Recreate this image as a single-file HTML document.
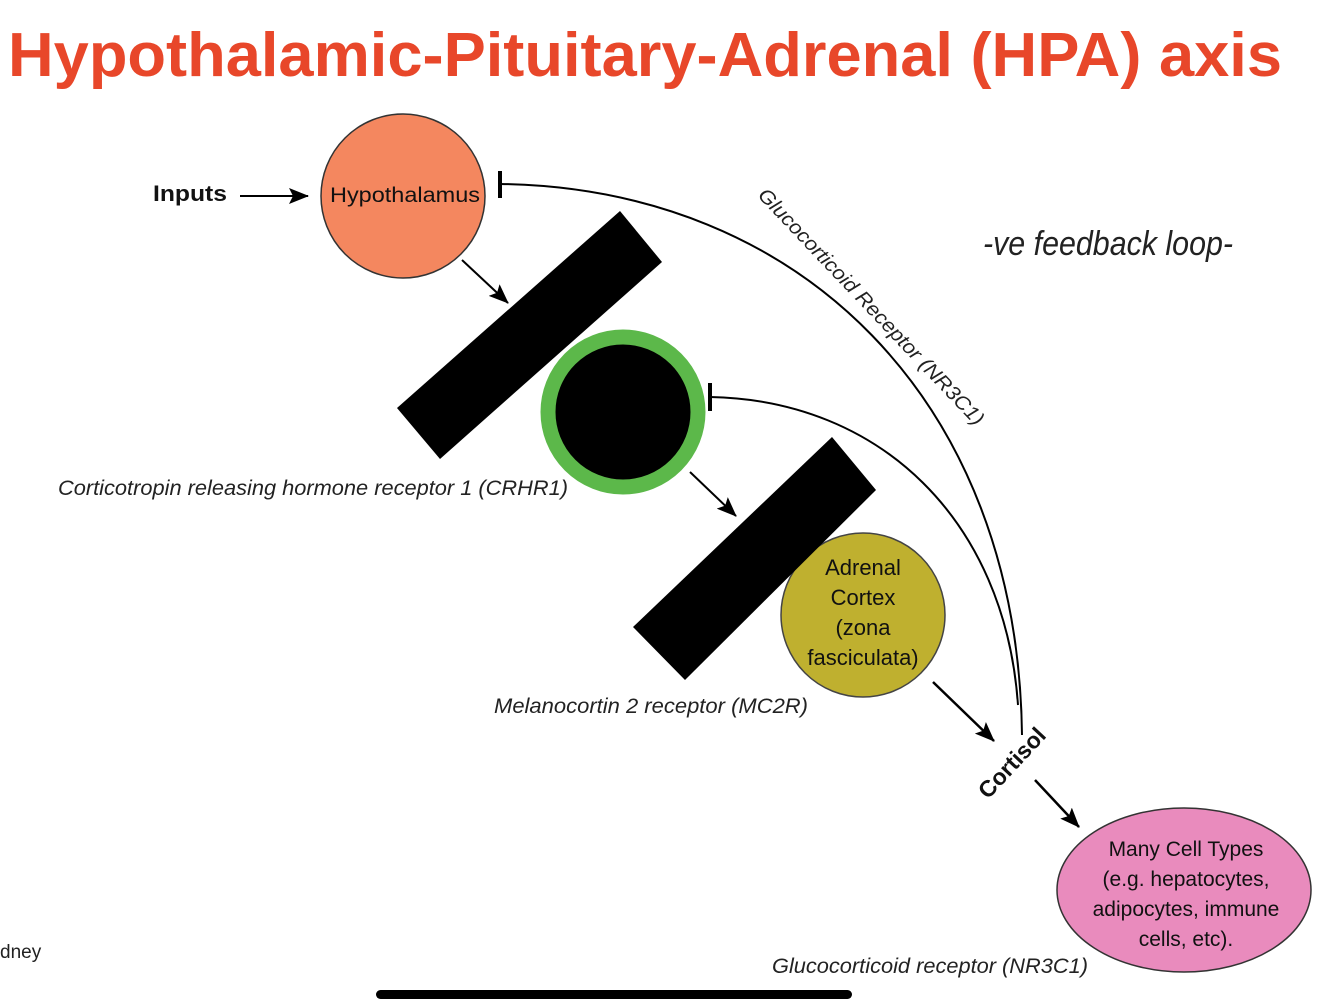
<!DOCTYPE html>
<html><head><meta charset="utf-8"><style>
html,body{margin:0;padding:0;background:#fff;}
svg{display:block;}
</style></head><body>
<svg width="1334" height="1008" viewBox="0 0 1334 1008" xmlns="http://www.w3.org/2000/svg">
<defs>
<marker id="ah2" markerWidth="20" markerHeight="16" refX="19" refY="8" orient="auto" markerUnits="userSpaceOnUse">
<path d="M0,0 L20,8 L0,16 L4,8 Z" fill="#000"/>
</marker>
</defs>
<text x="8" y="76" font-family="Liberation Sans, sans-serif" font-weight="bold" font-size="62" fill="#e8472a" textLength="1274" lengthAdjust="spacingAndGlyphs">Hypothalamic-Pituitary-Adrenal (HPA) axis</text>

<path d="M500,184 C800,188 1018,400 1022,735" fill="none" stroke="#000" stroke-width="2"/>
<path d="M710,397 C880,400 1005,520 1018,705" fill="none" stroke="#000" stroke-width="2"/>
<line x1="500" y1="171" x2="500" y2="198" stroke="#000" stroke-width="4"/>
<line x1="710" y1="383" x2="710" y2="411" stroke="#000" stroke-width="4"/>

<circle cx="403" cy="196" r="82" fill="#f4875f" stroke="#333" stroke-width="1.5"/>
<text x="405" y="202" font-family="Liberation Sans, sans-serif" font-size="21" text-anchor="middle" fill="#111" textLength="150" lengthAdjust="spacingAndGlyphs">Hypothalamus</text>
<circle cx="623" cy="412" r="75" fill="#000" stroke="#5cb84a" stroke-width="15"/>
<circle cx="863" cy="615" r="82" fill="#bfb02f" stroke="#444" stroke-width="1.5"/>
<g font-family="Liberation Sans, sans-serif" font-size="22" text-anchor="middle" fill="#111">
<text x="863" y="575">Adrenal</text><text x="863" y="605">Cortex</text><text x="863" y="635">(zona</text><text x="863" y="665">fasciculata)</text>
</g>
<ellipse cx="1184" cy="890" rx="127" ry="82" fill="#e98bbd" stroke="#333" stroke-width="1.5"/>
<g font-family="Liberation Sans, sans-serif" font-size="21" text-anchor="middle" fill="#111">
<text x="1186" y="856">Many Cell Types</text><text x="1186" y="886">(e.g. hepatocytes,</text><text x="1186" y="916">adipocytes, immune</text><text x="1186" y="946">cells, etc).</text>
</g>

<polygon points="397,408 620,211 662,262 440,459" fill="#000"/>
<polygon points="633,627 832,437 876,490 685,680" fill="#000"/>

<line x1="240" y1="196" x2="308" y2="196" stroke="#000" stroke-width="2" marker-end="url(#ah2)"/>
<line x1="462" y1="260" x2="508" y2="303" stroke="#000" stroke-width="2" marker-end="url(#ah2)"/>
<line x1="690" y1="472" x2="736" y2="516" stroke="#000" stroke-width="2" marker-end="url(#ah2)"/>
<line x1="933" y1="682" x2="994" y2="741" stroke="#000" stroke-width="2.5" marker-end="url(#ah2)"/>
<line x1="1035" y1="780" x2="1079" y2="827" stroke="#000" stroke-width="2.5" marker-end="url(#ah2)"/>

<text x="153" y="201" font-family="Liberation Sans, sans-serif" font-weight="bold" font-size="22" fill="#111" textLength="74" lengthAdjust="spacingAndGlyphs">Inputs</text>
<text x="58" y="495" font-family="Liberation Sans, sans-serif" font-style="italic" font-size="21" fill="#222" textLength="510" lengthAdjust="spacingAndGlyphs">Corticotropin releasing hormone receptor 1 (CRHR1)</text>
<text x="494" y="713" font-family="Liberation Sans, sans-serif" font-style="italic" font-size="21" fill="#222" textLength="314" lengthAdjust="spacingAndGlyphs">Melanocortin 2 receptor (MC2R)</text>
<text x="772" y="973" font-family="Liberation Sans, sans-serif" font-style="italic" font-size="21" fill="#222" textLength="316" lengthAdjust="spacingAndGlyphs">Glucocorticoid receptor (NR3C1)</text>
<text transform="translate(757,196) rotate(46.5)" font-family="Liberation Sans, sans-serif" font-style="italic" font-size="20" fill="#222" textLength="318" lengthAdjust="spacingAndGlyphs">Glucocorticoid Receptor (NR3C1)</text>
<text transform="translate(988,800) rotate(-47)" font-family="Liberation Sans, sans-serif" font-weight="bold" font-size="23" fill="#111">Cortisol</text>
<text x="983" y="255" font-family="Liberation Sans, sans-serif" font-size="34" fill="#222" font-style="italic" textLength="250" lengthAdjust="spacingAndGlyphs">-ve feedback loop-</text>
<text x="0" y="958" font-family="Liberation Sans, sans-serif" font-size="19" fill="#222">dney</text>
<rect x="376" y="990" width="476" height="9" rx="4.5" fill="#000"/>
</svg>
</body></html>
